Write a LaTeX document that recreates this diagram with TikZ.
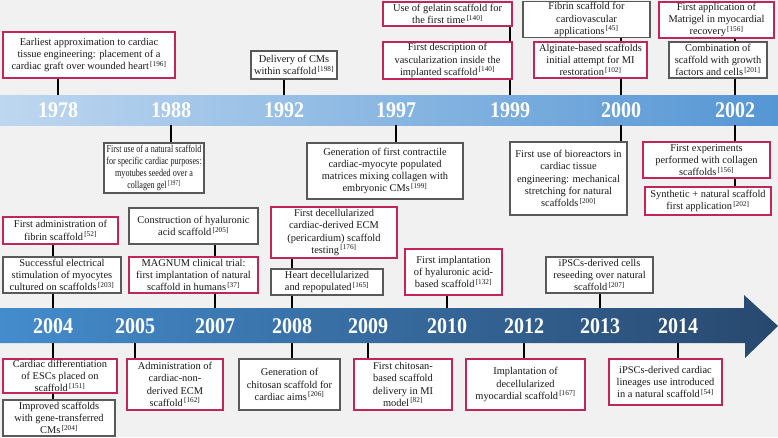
\documentclass[tikz,border=0pt]{standalone}
\usepackage{fontspec}
\setmainfont{Liberation Serif}
\newfontfamily\narrowserif{Liberation Serif}[FakeStretch=0.78]
\usepackage{tikz}

\definecolor{boxred}{RGB}{192,38,88}
\definecolor{boxgray}{RGB}{89,89,89}
\definecolor{bgc}{RGB}{241,241,241}
\definecolor{bandAl}{RGB}{190,215,240}
\definecolor{bandAr}{RGB}{85,150,212}
\definecolor{bandBl}{RGB}{68,140,205}
\definecolor{bandBr}{RGB}{40,72,110}

\newcommand{\rfn}[1]{\textsuperscript{\,[#1]}}

\begin{document}
\begin{tikzpicture}[x=1pt,y=-1pt,
    evbox/.style={draw, fill=white, line width=1.3pt, align=center, inner sep=1pt,
      font=\fontsize{10.4}{12.3}\selectfont, text=black!90},
    redbox/.style={evbox, draw=boxred},
    graybox/.style={evbox, draw=boxgray},
    yr/.style={text=white, font=\fontsize{20}{20}\selectfont\bfseries, yscale=1.12},
    tick/.style={line width=1.1pt, black}]
	% background and the two bands
	\fill[bgc] (0,0) rectangle (778,437);
	\useasboundingbox (0,0) rectangle (778,437);
	\shade[left color=bandAl, right color=bandAr] (0,95) rectangle (778,125);
	\shade[left color=bandBl, right color=bandBr] (0,308) -- (744,308) -- (744,295)
		-- (778,326) -- (745,358) -- (745,343) -- (0,343) -- cycle;
	\coordinate (b1top) at (0,95);
	\coordinate (b1bot) at (0,125);
	\coordinate (b2top) at (0,308);
	\coordinate (b2bot) at (0,343);
	\foreach \yr/\x in {1978/58,1988/171,1992/284,1997/396,1999/510,2000/621,2002/735}
		\node[yr] (y\yr) at (\x,110) {\yr};
	\foreach \yr/\x in {2004/53,2005/135,2007/215,2008/292,2009/368,2010/447,2012/524,2013/600,2014/678}
		\node[yr] (y\yr) at (\x,326) {\yr};

	% above the first band
	\node[redbox, minimum width=172, minimum height=46] (b1978) at (89,55)
		{Earliest approximation to cardiac\\ tissue engineering: placement of a\\ cardiac graft over wounded heart\rfn{196}};
	\node[graybox, minimum width=86, minimum height=28] (b1992) at (294,65)
		{Delivery of CMs\\ within scaffold\rfn{198}};
	\node[redbox, minimum width=129, minimum height=24] (b1999a) at (447.5,14)
		{Use of gelatin scaffold for\\ the first time\rfn{140}};
	\node[redbox, minimum width=129, minimum height=37] (b1999b) at (447.5,60.5)
		{First description of\\ vascularization inside the\\ implanted scaffold\rfn{140}};
	\node[graybox, minimum width=127, minimum height=36] (b2000a) at (586.5,19.5)
		{Fibrin scaffold for\\ cardiovascular\\ applications\rfn{45}};
	\node[redbox, minimum width=113, minimum height=36] (b2000b) at (590.5,60)
		{Alginate-based scaffolds\\ initial attempt for MI\\ restoration\rfn{102}};
	\node[redbox, minimum width=115, minimum height=36] (b2002a) at (716.5,20)
		{First application of\\ Matrigel in myocardial\\ recovery\rfn{156}};
	\node[graybox, minimum width=98, minimum height=36] (b2002b) at (718,60)
		{Combination of\\ scaffold with growth\\ factors and cells\rfn{201}};

	% below the first band
	\node[graybox, minimum width=100, minimum height=50, font=\narrowserif\fontsize{10.4}{12.3}\selectfont] (b1988) at (154,168)
		{First use of a natural scaffold\\ for specific cardiac purposes:\\ myotubes seeded over a\\ collagen gel\rfn{197}};
	\node[graybox, minimum width=156, minimum height=56] (b1997) at (385,171)
		{Generation of first contractile\\ cardiac-myocyte populated\\ matrices mixing collagen with\\ embryonic CMs\rfn{199}};
	\node[graybox, minimum width=117, minimum height=73] (b2000c) at (568.5,178.5)
		{First use of bioreactors in\\ cardiac tissue\\ engineering: mechanical\\ stretching for natural\\ scaffolds\rfn{200}};
	\node[redbox, minimum width=127, minimum height=36] (b2002c) at (706.5,160)
		{First experiments\\ performed with collagen\\ scaffolds\rfn{156}};
	\node[redbox, minimum width=126, minimum height=28] (b2002d) at (708,201)
		{Synthetic + natural scaffold\\ first application\rfn{202}};

	% above the second band
	\node[redbox, minimum width=115, minimum height=27] (b2004a) at (60.5,230.5)
		{First administration of\\ fibrin scaffold\rfn{52}};
	\node[graybox, minimum width=118, minimum height=36] (b2004b) at (62,275)
		{Successful electrical\\ stimulation of myocytes\\ cultured on scaffolds\rfn{203}};
	\node[graybox, minimum width=129, minimum height=36] (b2007a) at (193.5,226)
		{Construction of hyaluronic\\ acid scaffold\rfn{205}};
	\node[redbox, minimum width=129, minimum height=36] (b2007b) at (193.5,275)
		{MAGNUM clinical trial:\\ first implantation of natural\\ scaffold in humans\rfn{37}};
	\node[redbox, minimum width=126, minimum height=51] (b2008a) at (334,232.5)
		{First decellularized\\ cardiac-derived ECM\\ (pericardium) scaffold\\ testing\rfn{176}};
	\node[graybox, minimum width=112, minimum height=26] (b2008b) at (327,282)
		{Heart decellularized\\ and repopulated\rfn{165}};
	\node[redbox, minimum width=97, minimum height=46] (b2010) at (453.5,272)
		{First implantation\\ of hyaluronic acid-\\ based scaffold\rfn{132}};
	\node[graybox, minimum width=107, minimum height=36] (b2013) at (599.5,275)
		{iPSCs-derived cells\\ reseeding over natural\\ scaffold\rfn{207}};

	% below the second band
	\node[redbox, minimum width=114, minimum height=34] (b2004c) at (60,376)
		{Cardiac differentiation\\ of ESCs placed on\\ scaffold\rfn{151}};
	\node[graybox, minimum width=112, minimum height=36] (b2004d) at (59,418)
		{Improved scaffolds\\ with gene-transferred\\ CMs\rfn{204}};
	\node[redbox, minimum width=96, minimum height=51] (b2005) at (175,384.5)
		{Administration of\\ cardiac-non-\\ derived ECM\\ scaffold\rfn{162}};
	\node[graybox, minimum width=101, minimum height=51] (b2008c) at (289.5,384.5)
		{Generation of\\ chitosan scaffold for\\ cardiac aims\rfn{206}};
	\node[redbox, minimum width=98, minimum height=51] (b2009) at (403,384.5)
		{First chitosan-\\ based scaffold\\ delivery in MI\\ model\rfn{82}};
	\node[redbox, minimum width=119, minimum height=51] (b2012) at (525.5,384.5)
		{Implantation of\\ decellularized\\ myocardial scaffold\rfn{167}};
	\node[redbox, minimum width=113, minimum height=46] (b2014) at (665.5,382)
		{iPSCs-derived cardiac\\ lineages use introduced\\ in a natural scaffold\rfn{54}};

	% ticks
	\foreach \yr/\bx in {1978/b1978,1992/b1992,1999/b1999b,2000/b2000b,2002/b2002b}
		\draw[tick] (y\yr |- \bx.south) -- (y\yr |- b1top);
	\foreach \yr/\bx in {1988/b1988,1997/b1997,2000/b2000c,2002/b2002c}
		\draw[tick] (y\yr |- b1bot) -- (y\yr |- \bx.north);
	\foreach \yr/\bx in {2004/b2004b,2007/b2007b,2008/b2008b,2010/b2010,2013/b2013}
		\draw[tick] (y\yr |- \bx.south) -- (y\yr |- b2top);
	\foreach \yr/\bx in {2004/b2004c,2005/b2005,2008/b2008c,2009/b2009,2012/b2012,2014/b2014}
		\draw[tick] (y\yr |- b2bot) -- (y\yr |- \bx.north);
	% stacked boxes
	\draw[tick] (y1999 |- b1999a.south) -- (y1999 |- b1999b.north);
	\draw[tick] (y2000 |- b2000a.south) -- (y2000 |- b2000b.north);
	\draw[tick] (y2002 |- b2002a.south) -- (y2002 |- b2002b.north);
	\draw[tick] (y2002 |- b2002c.south) -- (y2002 |- b2002d.north);
	\draw[tick] (y2004 |- b2004a.south) -- (y2004 |- b2004b.north);
	\draw[tick] (y2007 |- b2007a.south) -- (y2007 |- b2007b.north);
	\draw[tick] (y2008 |- b2008a.south) -- (y2008 |- b2008b.north);
	\draw[tick] (y2004 |- b2004c.south) -- (y2004 |- b2004d.north);
\end{tikzpicture}
\end{document}
